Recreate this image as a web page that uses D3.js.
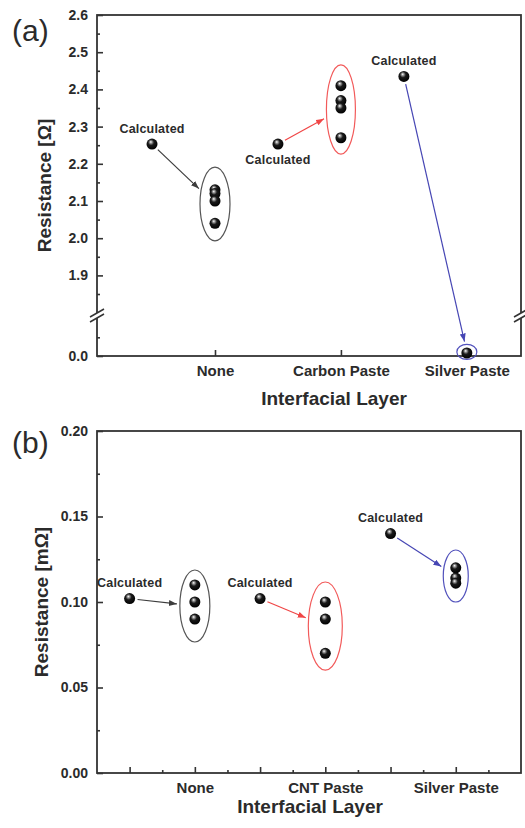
<!DOCTYPE html>
<html>
<head>
<meta charset="utf-8">
<script src="https://cdn.jsdelivr.net/npm/d3@7"></script>
<style>
  body { margin: 0; background: #fff; }
  text { font-family: "Liberation Sans", Arial, sans-serif; fill: #2b2b2b; }
</style>
</head>
<body>
<div id="chart"></div>
<script>
// ---- panel (a) data ----
const categoriesA = ["None", "Carbon Paste", "Silver Paste"];
const calculatedA = [2.253, 2.253, 2.435];
const measuredA = [[2.13, 2.12, 2.10, 2.04], [2.41, 2.37, 2.35, 2.27], [0.008]];
const ellipseA = [[1.993, 2.191], [2.226, 2.466], [-0.009, 0.031]];
const upperTicksA = [1.9, 2.0, 2.1, 2.2, 2.3, 2.4, 2.5, 2.6];
const lowerTicksA = [0.0];

// ---- panel (b) data ----
const categoriesB = ["None", "CNT Paste", "Silver Paste"];
const calculatedB = [0.102, 0.102, 0.14];
const measuredB = [[0.11, 0.10, 0.09], [0.10, 0.09, 0.07], [0.12, 0.114, 0.111]];
const ellipseB = [[0.0766, 0.1187], [0.0602, 0.1117], [0.100, 0.1304]];
const ticksB = [0.00, 0.05, 0.10, 0.15, 0.20];

const groupColors = ["#3c3c3c", "#f04646", "#4646b4"];
const ellipseColors = ["#555", "#f25a5a", "#5252bc"];

let svgWidth = 525;
let svgHeight = 828;

let svg = d3.select("#chart")
  .append("svg")
  .attr("width", svgWidth)
  .attr("height", svgHeight);

// shiny ball gradient + arrow markers
let defs = svg.append("defs");
let grad = defs.append("radialGradient")
  .attr("id", "ball")
  .attr("cx", "45%").attr("cy", "40%").attr("r", "60%")
  .attr("fx", "38%").attr("fy", "30%");
grad.append("stop").attr("offset", "0%").attr("stop-color", "#ffffff");
grad.append("stop").attr("offset", "18%").attr("stop-color", "#9a9a9a");
grad.append("stop").attr("offset", "45%").attr("stop-color", "#1a1a1a");
grad.append("stop").attr("offset", "100%").attr("stop-color", "#000");

groupColors.forEach((c, i) => {
  defs.append("marker")
    .attr("id", "arrow" + i)
    .attr("markerUnits", "userSpaceOnUse")
    .attr("markerWidth", 10).attr("markerHeight", 8)
    .attr("refX", 8).attr("refY", 3)
    .attr("orient", "auto")
    .append("path")
    .attr("d", "M0,0 L8,3 L0,6 Z")
    .attr("fill", c);
});

function midpoints(arr) {
  let out = [];
  for (let i = 0; i < arr.length - 1; i++) out.push((arr[i] + arr[i + 1]) / 2);
  return out;
}

function styleAxis(g, size) {
  g.select(".domain").remove();
  g.selectAll(".tick line").attr("stroke", "#333").attr("stroke-width", 1.6);
  g.selectAll(".tick text")
    .attr("font-family", "Liberation Sans, Arial, sans-serif")
    .attr("font-weight", "bold")
    .attr("font-size", size)
    .attr("fill", "#2b2b2b");
}

function drawPanel(opt) {
  let g = svg.append("g");
  let x = opt.x, y = opt.y;
  let left = x.range()[0], right = x.range()[1];

  // y ticks (major + minor), inward
  opt.yScales.forEach(s => {
    g.append("g")
      .attr("transform", `translate(${left},0)`)
      .call(d3.axisLeft(s.scale).tickValues(s.major).tickSize(-6).tickPadding(9).tickFormat(d3.format(opt.yFormat)))
      .call(a => styleAxis(a, 14));
    g.append("g")
      .attr("transform", `translate(${left},0)`)
      .call(d3.axisLeft(s.scale).tickValues(s.minor).tickSize(-3).tickFormat(""))
      .call(a => styleAxis(a, 14));
  });

  // x ticks
  g.append("g")
    .attr("transform", `translate(0,${opt.bottom})`)
    .call(d3.axisBottom(x).tickValues(opt.xMajor).tickSize(-6).tickPadding(9)
      .tickFormat(d => Number.isInteger(d) ? opt.categories[d - 1] : ""))
    .call(a => styleAxis(a, 15));
  if (opt.xMinor.length) {
    g.append("g")
      .attr("transform", `translate(0,${opt.bottom})`)
      .call(d3.axisBottom(x).tickValues(opt.xMinor).tickSize(-3).tickFormat(""))
      .call(a => styleAxis(a, 15));
  }

  // frame
  g.append("rect")
    .attr("x", left).attr("y", opt.top)
    .attr("width", right - left).attr("height", opt.bottom - opt.top)
    .attr("fill", "none").attr("stroke", "#333").attr("stroke-width", 1.8);

  // axis break marks
  if (opt.breakY) {
    [left, right].forEach(bx => {
      g.append("rect")
        .attr("x", bx - 3).attr("y", opt.breakY - 2.5)
        .attr("width", 6).attr("height", 5)
        .attr("fill", "#fff");
      [-2.5, 2.5].forEach(off => {
        g.append("line")
          .attr("x1", bx - 7).attr("y1", opt.breakY + off + 4)
          .attr("x2", bx + 7).attr("y2", opt.breakY + off - 4)
          .attr("stroke", "#333").attr("stroke-width", 1.6);
      });
    });
  }

  // ellipses
  opt.ellipses.forEach((e, i) => {
    let y0 = y(e[0]), y1 = y(e[1]);
    g.append("ellipse")
      .attr("cx", x(i + 1))
      .attr("cy", (y0 + y1) / 2)
      .attr("rx", opt.rx[i])
      .attr("ry", Math.abs(y0 - y1) / 2)
      .attr("fill", "none")
      .attr("stroke", ellipseColors[i])
      .attr("stroke-width", 1.2);
  });

  // arrows from calculated point to ellipse
  opt.calculated.forEach((v, i) => {
    let e = opt.ellipses[i];
    let sx = x(i + 0.5), sy = y(v);
    let ex = x(i + 1), ey = (y(e[0]) + y(e[1])) / 2;
    let ry = Math.abs(y(e[0]) - y(e[1])) / 2;
    let dx = ex - sx, dy = ey - sy;
    let u = 1 / Math.sqrt((dx / opt.rx[i]) ** 2 + (dy / ry) ** 2);
    let len = Math.hypot(dx, dy);
    let tEnd = 1 - u - 3 / len;
    let tStart = 8 / len;
    g.append("line")
      .attr("x1", sx + dx * tStart).attr("y1", sy + dy * tStart)
      .attr("x2", sx + dx * tEnd).attr("y2", sy + dy * tEnd)
      .attr("stroke", groupColors[i])
      .attr("stroke-width", 1.2)
      .attr("marker-end", `url(#arrow${i})`);
  });

  // calculated points + labels
  g.append("g").selectAll("circle")
    .data(opt.calculated)
    .enter()
    .append("circle")
    .attr("cx", (d, i) => x(i + 0.5))
    .attr("cy", d => y(d))
    .attr("r", 5.5)
    .attr("fill", "url(#ball)");

  g.append("g").selectAll("text")
    .data(opt.calculated)
    .enter()
    .append("text")
    .attr("x", (d, i) => x(i + 0.5))
    .attr("y", (d, i) => y(d) + (opt.labelBelow[i] ? 20 : -11.5))
    .attr("text-anchor", "middle")
    .attr("font-weight", "bold")
    .attr("font-size", 12.5)
    .attr("letter-spacing", 0.2)
    .text("Calculated");

  // measured points
  opt.measured.forEach((vals, i) => {
    g.append("g").selectAll("circle")
      .data(vals)
      .enter()
      .append("circle")
      .attr("cx", x(i + 1))
      .attr("cy", d => y(d))
      .attr("r", 5.5)
      .attr("fill", "url(#ball)");
  });

  // axis titles and panel letter
  g.append("text")
    .attr("transform", `translate(${opt.yTitleX},${(opt.top + opt.bottom) / 2}) rotate(-90)`)
    .attr("text-anchor", "middle")
    .attr("font-weight", "bold")
    .attr("font-size", 19)
    .text(opt.yTitle);

  g.append("text")
    .attr("x", opt.xTitleX)
    .attr("y", opt.xTitleY)
    .attr("text-anchor", "middle")
    .attr("font-weight", "bold")
    .attr("font-size", 19)
    .text("Interfacial Layer");

  g.append("text")
    .attr("x", 12)
    .attr("y", opt.letterY)
    .attr("font-size", 30)
    .attr("fill", "#222")
    .text(opt.letter);
}

// ---- panel (a): broken y axis ----
let xA = d3.scaleLinear().domain([0.063, 3.43]).range([97, 521]);
let yUpperA = d3.scaleLinear().domain([1.8, 2.6]).range([312.6, 15]);
let yLowerA = d3.scaleLinear().domain([0, 0.1]).range([356, 318.6]);
let yA = v => (v < 1 ? yLowerA(v) : yUpperA(v));

drawPanel({
  x: xA, y: yA, top: 15, bottom: 356, breakY: 315.5,
  yScales: [
    { scale: yUpperA, major: upperTicksA, minor: [1.85].concat(midpoints(upperTicksA)) },
    { scale: yLowerA, major: lowerTicksA, minor: [0.05] }
  ],
  yFormat: ".1f",
  xMajor: [1, 2, 3], xMinor: [],
  categories: categoriesA,
  calculated: calculatedA, measured: measuredA, ellipses: ellipseA,
  rx: [15, 14.5, 10], labelBelow: [false, true, false],
  yTitle: "Resistance [Ω]", yTitleX: 51,
  xTitleX: 334, xTitleY: 405,
  letter: "(a)", letterY: 41
});

// ---- panel (b) ----
let xB = d3.scaleLinear().domain([0.25, 3.5]).range([97, 521]);
let yB = d3.scaleLinear().domain([0, 0.2]).range([773, 431]);

drawPanel({
  x: xB, y: yB, top: 431, bottom: 773, breakY: null,
  yScales: [
    { scale: yB, major: ticksB, minor: midpoints(ticksB) }
  ],
  yFormat: ".2f",
  xMajor: [0.5, 1, 1.5, 2, 2.5, 3], xMinor: [0.75, 1.25, 1.75, 2.25, 2.75, 3.25],
  categories: categoriesB,
  calculated: calculatedB, measured: measuredB, ellipses: ellipseB,
  rx: [15, 17, 12.5], labelBelow: [false, false, false],
  yTitle: "Resistance [mΩ]", yTitleX: 48,
  xTitleX: 310, xTitleY: 813,
  letter: "(b)", letterY: 453
});
</script>
</body>
</html>
